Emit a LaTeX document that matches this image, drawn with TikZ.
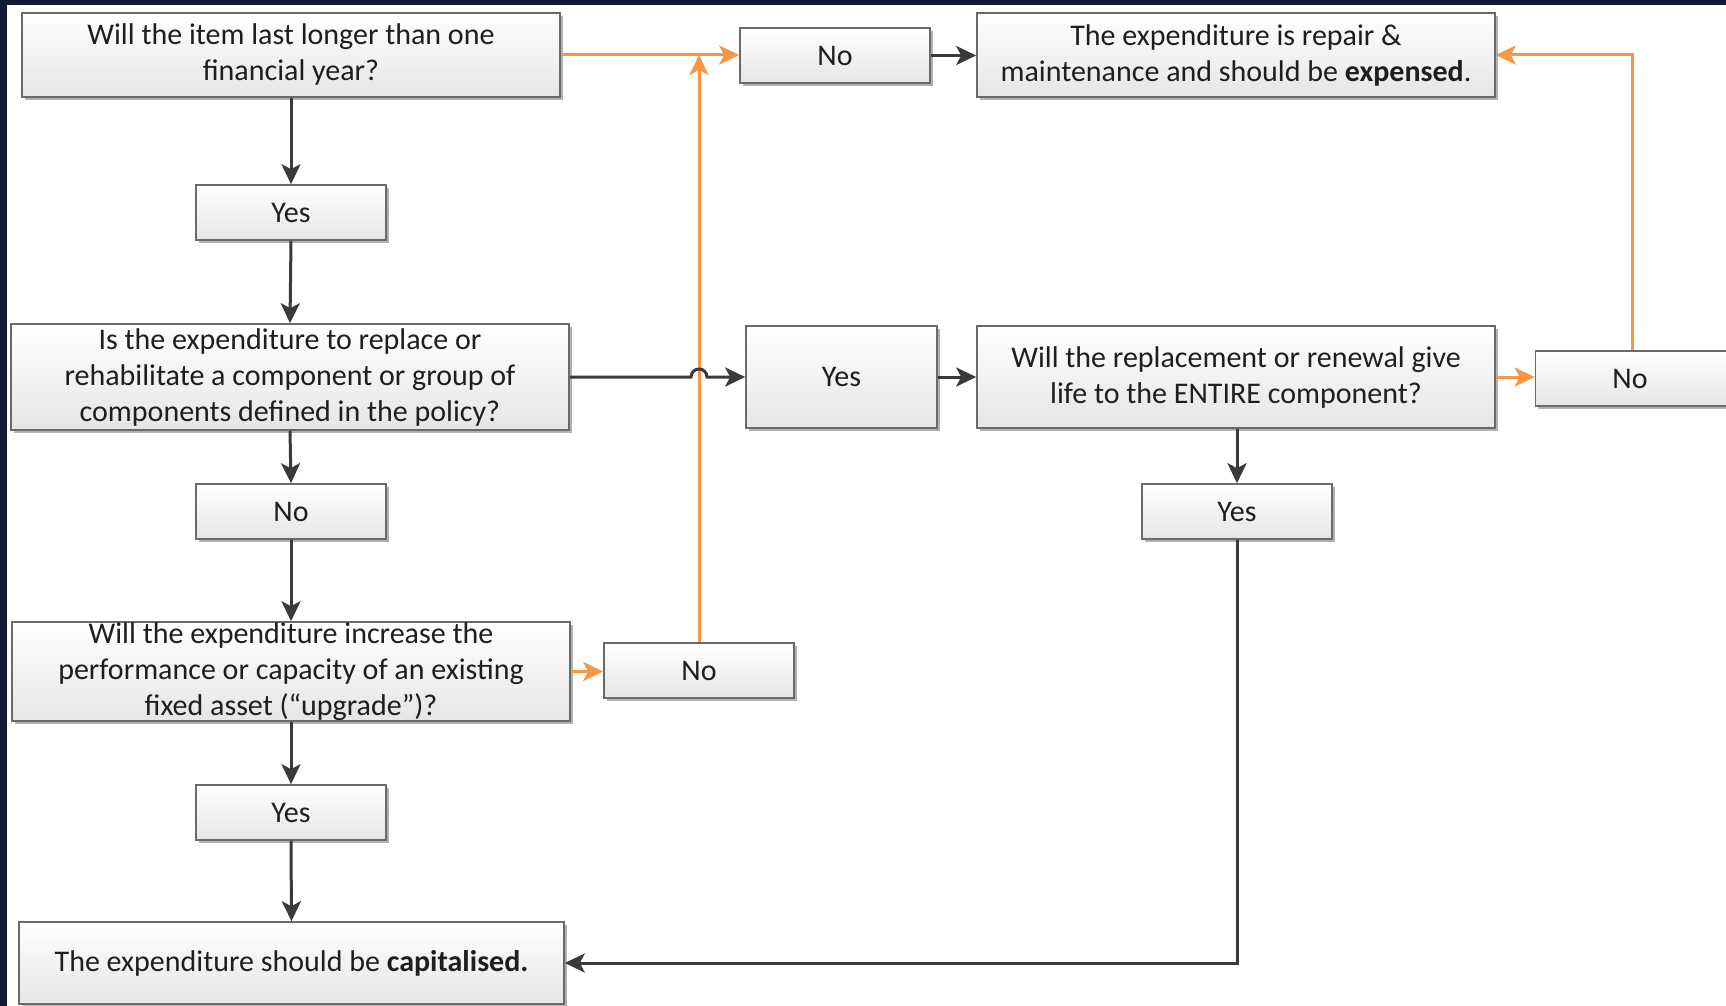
\documentclass[tikz,border=0pt]{standalone}
\usepackage{fontspec}
\setmainfont{Carlito}
\usetikzlibrary{arrows.meta,shadows,calc}
\definecolor{navy}{HTML}{121B33}
\definecolor{boxline}{HTML}{6A6A6A}
\definecolor{darkline}{HTML}{3A3A3A}
\definecolor{orng}{HTML}{F79646}
\definecolor{txt}{HTML}{1E1E1E}
\tikzset{
  fbox/.style={draw=boxline, line width=1.6pt, top color=white, bottom color=black!10,
    drop shadow={shadow xshift=2.5pt, shadow yshift=-3pt, opacity=0.3, fill=black},
    align=center, inner sep=0pt, text=txt,
    font=\fontsize{30}{36}\selectfont},
  sz/.style 2 args={minimum width=#1pt, minimum height=#2pt},
  darr/.style={draw=darkline, line width=3pt, -{Stealth[length=20pt,width=19pt,inset=5pt]}},
  oarr/.style={draw=orng, line width=3pt, -{Stealth[length=20pt,width=19pt,inset=5pt]}},
}
\begin{document}
\begin{tikzpicture}[x=1pt,y=-1pt]
\useasboundingbox (0,0) rectangle (1726,1006);
\fill[navy] (0,0) rectangle (1726,1006);
\fill[white] (7,5) rectangle (1726,1006);
\begin{scope}
\clip (7,5) rectangle (1726,1006);
\node[fbox, sz={538}{84}] (A) at (291,55) {Will the item last longer than one\\financial year?};
\node[fbox, sz={190}{55}] (No1) at (835,55.5) {No};
\node[fbox, sz={518}{84}] (Exp) at (1236,55) {The expenditure is repair \&\\maintenance and should be \textbf{expensed}.};
\node[fbox, sz={190}{55}] (Yes1) at (291,212.5) {Yes};
\node[fbox, sz={558}{106}] (B) at (290,377) {Is the expenditure to replace or\\rehabilitate a component or group of\\components defined in the policy?};
\node[fbox, sz={191}{102}] (Yes2) at (841.5,377) {Yes};
\node[fbox, sz={518}{102}] (C) at (1236,377) {Will the replacement or renewal give\\life to the ENTIRE component?};
\node[fbox, sz={193}{55}] (No3) at (1632,378.5) {\hspace*{-4pt}No};
\node[fbox, sz={190}{55}] (No2) at (291,511.5) {No};
\node[fbox, sz={190}{55}] (Yes3) at (1237,511.5) {Yes};
\node[fbox, sz={558}{99}] (D) at (291,671.5) {Will the expenditure increase the\\performance or capacity of an existing\\fixed asset (“upgrade”)?};
\node[fbox, sz={190}{55}] (No4) at (699,670.5) {No};
\node[fbox, sz={190}{55}] (Yes4) at (291,812.5) {Yes};
\node[fbox, sz={545}{82}] (E) at (291.5,963) {The expenditure should be \textbf{capitalised.}};

% dark connectors
\draw[darr] (A.south) -- (Yes1.north);
\draw[darr] (Yes1.south) -- (B.north);
\draw[darr] (B.south) -- (No2.north);
\draw[darr] (No2.south) -- (D.north);
\draw[darr] (D.south) -- (Yes4.north);
\draw[darr] (Yes4.south) -- (E.north);
\draw[darr] (No1.east) -- (No1.east -| Exp.west);
\draw[darr] (Yes2.east) -- (Yes2.east -| C.west);
\draw[darr] (C.south -| Yes3.north) -- (Yes3.north);
\draw[darr] (Yes3.south) |- (E.east);

% orange connectors
\draw[oarr] (A.east) -- (A.east -| No1.west);
\draw[oarr] (No4.north) -- (No4.north |- A.east);
\draw[oarr] (D.east) -- (D.east -| No4.west);
\draw[oarr] (C.east) -- (C.east -| No3.west);
\draw[oarr] (No3.north) -- (No3.north |- Exp.east) -- (Exp.east);

% B -> Yes2 with jump over orange line
\coordinate (j1) at ($(No4.north |- B.east)+(-8,0)$);
\draw[darr] (B.east) -- (j1) arc[start angle=180, end angle=0, radius=8pt] -- (Yes2.west);
\end{scope}
\end{tikzpicture}
\end{document}
